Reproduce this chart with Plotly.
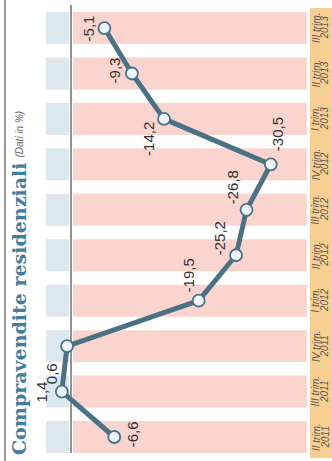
import plotly.graph_objects as go

# ---- data ----
quarters = ["II trim.", "III trim.", "IV trim.", "I trim.", "II trim.",
            "III trim.", "IV trim.", "I trim.", "II trim.", "III trim."]
years = ["2011", "2011", "2011", "2012", "2012", "2012", "2012", "2013", "2013", "2013"]
values = [-6.6, 1.4, 0.6, -19.5, -25.2, -26.8, -30.5, -14.2, -9.3, -5.1]

# label offsets (pixels) for each value label
label_dx = [18, -20, -16, -10, -17, -14, 7, -15, -17, -16]
label_dy = [3, 0, -28, 25, 17, 22, 30, -20, 3, 0]

W, H = 332, 461
idx = list(range(len(values)))

LINE = "#4b7185"
PINK = "#fad5cf"
BLUE = "#dde7ee"
ORANGE = "#f8cf92"
TITLE = "#3f7e9f"

fig = go.Figure()

shapes = []
# left border line
shapes.append(dict(type="line", xref="paper", yref="paper", x0=5 / W, x1=5 / W,
                   y0=0, y1=1, line=dict(color="#7a7a7a", width=1.5)))
# label strip
shapes.append(dict(type="rect", xref="paper", yref="paper", x0=310 / W, x1=1,
                   y0=1 - 458 / H, y1=1 - 8 / H, fillcolor=ORANGE, line=dict(width=0),
                   layer="below"))
for i in idx:
    shapes.append(dict(type="rect", xref="x", yref="y", x0=0.3, x1=3.8,
                       y0=i - 0.352, y1=i + 0.352, fillcolor=BLUE,
                       line=dict(width=0), layer="below"))
    shapes.append(dict(type="rect", xref="x", yref="y", x0=-0.3, x1=-36,
                       y0=i - 0.352, y1=i + 0.352, fillcolor=PINK,
                       line=dict(width=0), layer="below"))
# zero line
shapes.append(dict(type="line", xref="x", yref="paper", x0=0, x1=0,
                   y0=1 - 453 / H, y1=1 - 5 / H, line=dict(color="#6e6e6e", width=1.5),
                   layer="below"))

fig.add_trace(go.Scatter(
    x=values, y=idx, mode="lines+markers",
    line=dict(color=LINE, width=5),
    marker=dict(size=12, color="#eef5fa", line=dict(color=LINE, width=1.8)),
    hoverinfo="skip", showlegend=False,
))

annotations = []
for i, v in enumerate(values):
    annotations.append(dict(
        x=v, y=i, xref="x", yref="y", text=f"{v:.1f}".replace(".", ","),
        showarrow=False, textangle=-90, xshift=label_dx[i], yshift=label_dy[i],
        font=dict(family="Liberation Sans, Arial, sans-serif", size=15, color="#333333"),
        xanchor="center", yanchor="middle",
    ))
    annotations.append(dict(
        x=316 / W, y=i, xref="paper", yref="y", text=f"<i>{quarters[i]}</i>",
        showarrow=False, textangle=-90,
        font=dict(family="Liberation Sans, Arial, sans-serif", size=10, color="#555555"),
        xanchor="center", yanchor="middle",
    ))
    annotations.append(dict(
        x=324.5 / W, y=i, xref="paper", yref="y", text=f"<i>{years[i]}</i>",
        showarrow=False, textangle=-90,
        font=dict(family="Liberation Sans, Arial, sans-serif", size=10, color="#555555"),
        xanchor="center", yanchor="middle",
    ))

annotations.append(dict(
    x=19 / W, y=1 - 457 / H, xref="paper", yref="paper",
    text="<b>Compravendite residenziali</b>", showarrow=False, textangle=-90,
    font=dict(family="DejaVu Serif, serif", size=19, color=TITLE),
    xanchor="center", yanchor="bottom",
))
annotations.append(dict(
    x=19 / W, y=1 - 160 / H, xref="paper", yref="paper",
    text="<i>(Dati in %)</i>", showarrow=False, textangle=-90,
    font=dict(family="Liberation Sans, Arial, sans-serif", size=10, color="#666666"),
    xanchor="center", yanchor="bottom",
))

k = 6.55
fig.update_layout(
    width=W, height=H,
    margin=dict(l=0, r=0, t=0, b=0),
    paper_bgcolor="white", plot_bgcolor="white",
    xaxis=dict(range=[71 / k, (71 - W) / k], visible=False, fixedrange=True),
    yaxis=dict(range=[(437 - H) / 45.44, 437 / 45.44], visible=False, fixedrange=True),
    shapes=shapes, annotations=annotations,
)

fig.write_html("out.html")
